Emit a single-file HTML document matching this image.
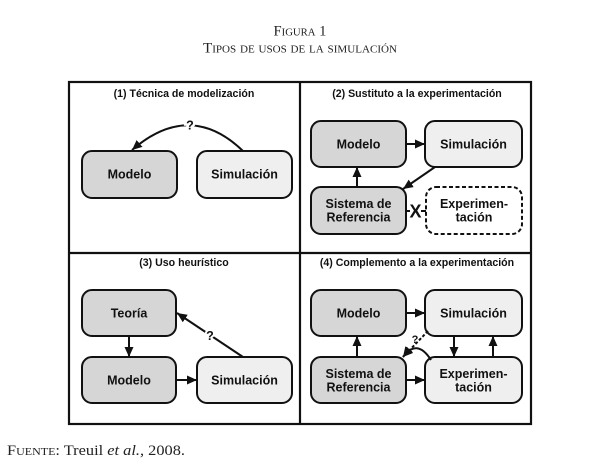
<!DOCTYPE html>
<html><head><meta charset="utf-8"><style>
html,body{margin:0;padding:0;background:#fff;width:600px;height:472px;overflow:hidden}
svg{display:block}
.t{font-family:"Liberation Sans",Arial,sans-serif;font-weight:bold;font-size:10.6px;fill:#111;text-anchor:middle}
.b{font-family:"Liberation Sans",Arial,sans-serif;font-weight:bold;font-size:12.5px;fill:#111;text-anchor:middle}
.x{font-family:"Liberation Sans",Arial,sans-serif;font-weight:bold;font-size:18px;fill:#111;text-anchor:middle}
.s{font-family:"Liberation Serif","Times New Roman",serif;fill:#222}
</style></head><body>
<svg width="600" height="472" viewBox="0 0 600 472" xmlns="http://www.w3.org/2000/svg">
<defs>
<marker id="a" markerUnits="userSpaceOnUse" markerWidth="11" markerHeight="9" refX="10" refY="4.5" orient="auto">
<path d="M0,0 L10,4.5 L0,9 z" fill="#111"/>
</marker>
</defs>

<!-- header -->
<text class="s" x="300" y="35.5" text-anchor="middle" font-size="15" style="font-variant:small-caps" textLength="53" lengthAdjust="spacingAndGlyphs">Figura 1</text>
<text class="s" x="300" y="52.5" text-anchor="middle" font-size="15" style="font-variant:small-caps" textLength="194" lengthAdjust="spacingAndGlyphs">Tipos de usos de la simulación</text>

<!-- frame -->
<rect x="69" y="82" width="462" height="342" fill="none" stroke="#111" stroke-width="2.2"/>
<line x1="300" y1="82" x2="300" y2="424" stroke="#111" stroke-width="2.2"/>
<line x1="69" y1="253" x2="531" y2="253" stroke="#111" stroke-width="2.2"/>

<!-- Panel 1 -->
<text class="t" x="184" y="97">(1) Técnica de modelización</text>
<rect x="82" y="151" width="95" height="47" rx="10" fill="#d6d6d6" stroke="#111" stroke-width="2"/>
<rect x="197" y="151" width="95" height="47" rx="10" fill="#efefef" stroke="#111" stroke-width="2"/>
<text class="b" x="129.5" y="178.5">Modelo</text>
<text class="b" x="244.5" y="178.5">Simulación</text>
<path d="M243,151 Q190,100 132,150" fill="none" stroke="#111" stroke-width="2" marker-end="url(#a)"/>
<text class="b" x="190" y="129.5" style="paint-order:stroke" stroke="#fff" stroke-width="5">?</text>

<!-- Panel 2 -->
<text class="t" x="417" y="97">(2) Sustituto a la experimentación</text>
<rect x="311" y="121" width="95" height="46" rx="10" fill="#d6d6d6" stroke="#111" stroke-width="2"/>
<rect x="425" y="121" width="97" height="46" rx="10" fill="#efefef" stroke="#111" stroke-width="2"/>
<rect x="311" y="187" width="95" height="47" rx="10" fill="#d6d6d6" stroke="#111" stroke-width="2"/>
<rect x="426" y="187" width="96" height="47" rx="10" fill="#fff" stroke="#111" stroke-width="2" stroke-dasharray="4,2.5"/>
<text class="b" x="358.5" y="148.5">Modelo</text>
<text class="b" x="473.5" y="148.5">Simulación</text>
<text class="b" x="358.5" y="208">Sistema de</text>
<text class="b" x="358.5" y="221.5">Referencia</text>
<text class="b" x="474" y="208">Experimen-</text>
<text class="b" x="474" y="221.5">tación</text>
<line x1="406" y1="144" x2="425" y2="144" stroke="#111" stroke-width="2" marker-end="url(#a)"/>
<line x1="357" y1="187" x2="357" y2="167" stroke="#111" stroke-width="2" marker-end="url(#a)"/>
<line x1="435" y1="167" x2="403" y2="189" stroke="#111" stroke-width="2" marker-end="url(#a)"/>
<line x1="406" y1="211" x2="410" y2="211" stroke="#111" stroke-width="2"/>
<line x1="421" y1="211" x2="426" y2="211" stroke="#111" stroke-width="2"/>
<text class="x" x="415.5" y="217.5">X</text>

<!-- Panel 3 -->
<text class="t" x="184" y="266">(3) Uso heurístico</text>
<rect x="82" y="290" width="94" height="46" rx="10" fill="#d6d6d6" stroke="#111" stroke-width="2"/>
<rect x="82" y="357" width="94" height="46" rx="10" fill="#d6d6d6" stroke="#111" stroke-width="2"/>
<rect x="197" y="357" width="95" height="46" rx="10" fill="#efefef" stroke="#111" stroke-width="2"/>
<text class="b" x="129" y="317.5">Teoría</text>
<text class="b" x="129" y="384.5">Modelo</text>
<text class="b" x="244.5" y="384.5">Simulación</text>
<line x1="129" y1="336" x2="129" y2="357" stroke="#111" stroke-width="2" marker-end="url(#a)"/>
<line x1="176" y1="380" x2="197" y2="380" stroke="#111" stroke-width="2" marker-end="url(#a)"/>
<line x1="243" y1="357" x2="177" y2="313" stroke="#111" stroke-width="2" marker-end="url(#a)"/>
<text class="b" x="210" y="340" style="paint-order:stroke" stroke="#fff" stroke-width="4">?</text>

<!-- Panel 4 -->
<text class="t" x="417" y="266">(4) Complemento a la experimentación</text>
<rect x="311" y="290" width="95" height="46" rx="10" fill="#d6d6d6" stroke="#111" stroke-width="2"/>
<rect x="425" y="290" width="97" height="46" rx="10" fill="#efefef" stroke="#111" stroke-width="2"/>
<rect x="311" y="357" width="95" height="46" rx="10" fill="#d6d6d6" stroke="#111" stroke-width="2"/>
<rect x="425" y="357" width="97" height="46" rx="10" fill="#efefef" stroke="#111" stroke-width="2"/>
<text class="b" x="358.5" y="317.5">Modelo</text>
<text class="b" x="473.5" y="317.5">Simulación</text>
<text class="b" x="358.5" y="378">Sistema de</text>
<text class="b" x="358.5" y="391.5">Referencia</text>
<text class="b" x="473.5" y="378">Experimen-</text>
<text class="b" x="473.5" y="391.5">tación</text>
<line x1="406" y1="313" x2="425" y2="313" stroke="#111" stroke-width="2" marker-end="url(#a)"/>
<line x1="357" y1="357" x2="357" y2="336" stroke="#111" stroke-width="2" marker-end="url(#a)"/>
<line x1="406" y1="380" x2="425" y2="380" stroke="#111" stroke-width="2" marker-end="url(#a)"/>
<line x1="454" y1="336" x2="454" y2="357" stroke="#111" stroke-width="2" marker-end="url(#a)"/>
<line x1="493" y1="357" x2="493" y2="336" stroke="#111" stroke-width="2" marker-end="url(#a)"/>
<line x1="428" y1="331" x2="403" y2="357" stroke="#111" stroke-width="2" stroke-dasharray="3,2" marker-end="url(#a)"/>
<path d="M431,360 Q417,338 403,357" fill="none" stroke="#111" stroke-width="2" marker-end="url(#a)"/>
<text class="b" x="415" y="343" style="font-size:11px">?</text>

<!-- footer -->
<text class="s" x="7" y="455" font-size="15" textLength="178" lengthAdjust="spacingAndGlyphs"><tspan style="font-variant:small-caps">Fuente</tspan>: Treuil <tspan font-style="italic">et al.</tspan>, 2008.</text>
</svg>
</body></html>
